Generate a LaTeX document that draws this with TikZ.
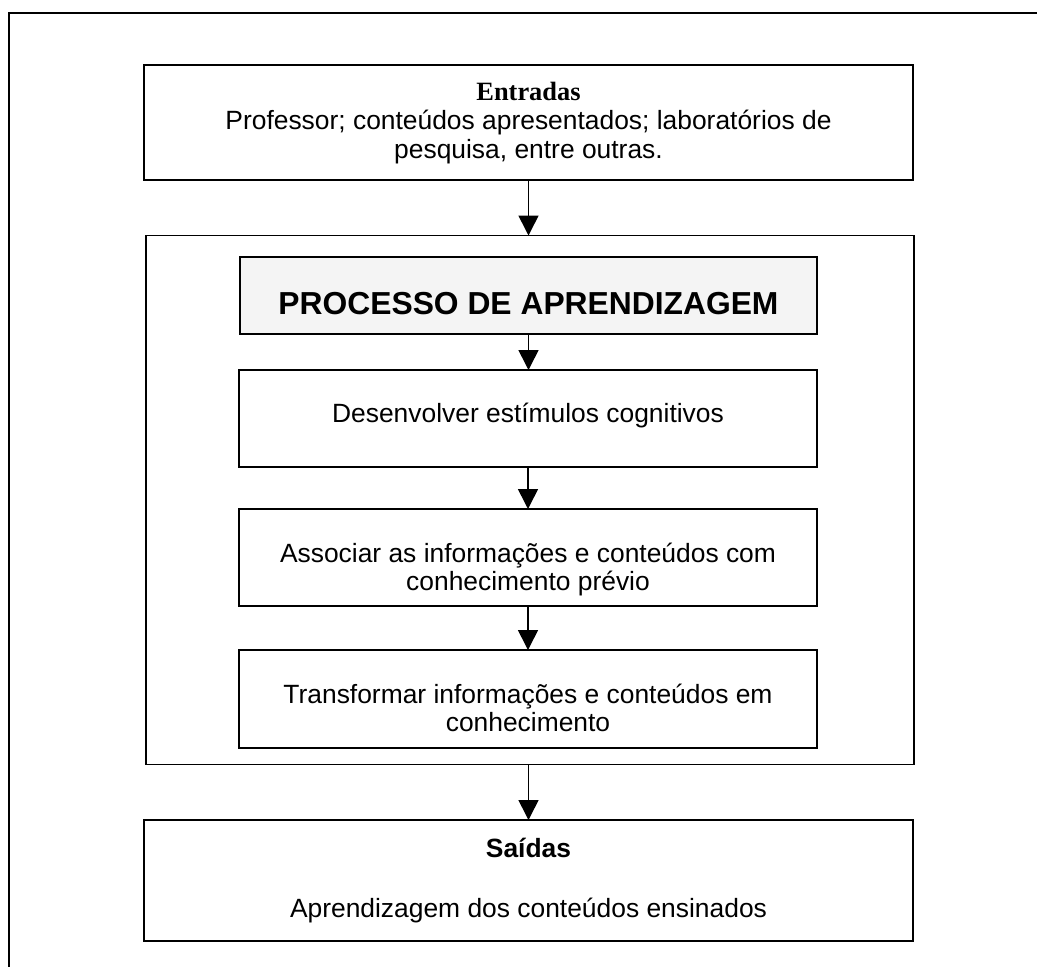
\documentclass[tikz,border=0pt]{standalone}
\usepackage{fontspec}
\setmainfont{Liberation Sans}
\newfontfamily\titleserif{Liberation Serif}
\usetikzlibrary{arrows.meta}
\definecolor{titlefill}{HTML}{F4F4F4}
\begin{document}
\begin{tikzpicture}[x=1pt,y=-1pt,
  box/.style={draw=black,line width=1.8pt,inner sep=0pt,outer sep=0pt,rectangle},
  txt/.style={inner sep=0pt,anchor=base,font=\fontsize{26.4}{29.5}\selectfont},
  flow/.style={line width=1.6pt,-{Triangle[length=20pt,width=20pt]}}]
\useasboundingbox (0,0) rectangle (1037,967);
% outer frame
\draw[line width=1.8pt] (9,967) -- (9,13) -- (1037,13);
% boxes
\node[box,minimum width=769pt,minimum height=115pt] (entr) at (528.5,122.5) {};
\node[box,minimum width=768pt,minimum height=529pt] (proc) at (530,500) {};
\node[box,fill=titlefill,minimum width=577pt,minimum height=77pt] (ptitle) at (528.5,295.5) {};
\node[box,minimum width=578pt,minimum height=97pt] (desenv) at (528,418.5) {};
\node[box,minimum width=578pt,minimum height=97pt] (assoc) at (528,557.5) {};
\node[box,minimum width=578pt,minimum height=98pt] (transf) at (528,699) {};
\node[box,minimum width=769pt,minimum height=121pt] (said) at (528.5,880.5) {};
% texts
\node[txt,font=\titleserif\bfseries\fontsize{26.4}{29.5}\selectfont] (entr-t) at (528.5,100) {Entradas};
\node[txt] (entr-a) at (528.5,129) {Professor; conteúdos apresentados; laboratórios de};
\node[txt] (entr-b) at (528.5,158) {pesquisa, entre outras.};
\node[txt,font=\bfseries\fontsize{31.8}{36}\selectfont] (ptitle-t) at (528.5,314) {PROCESSO DE APRENDIZAGEM};
\node[txt] (desenv-t) at (528,422) {Desenvolver estímulos cognitivos};
\node[txt] (assoc-a) at (528,562) {Associar as informações e conteúdos com};
\node[txt] (assoc-b) at (528,590) {conhecimento prévio};
\node[txt] (transf-a) at (528,703) {Transformar informações e conteúdos em};
\node[txt] (transf-b) at (528,731) {conhecimento};
\node[txt,font=\bfseries\fontsize{26.4}{29.5}\selectfont] (said-t) at (528.5,857) {Saídas};
\node[txt] (said-a) at (528.5,917) {Aprendizagem dos conteúdos ensinados};
% connectors
\draw[flow] (entr.south) -- (entr.south |- proc.north);
\draw[flow] (ptitle.south) -- (ptitle.south |- desenv.north);
\draw[flow] (desenv.south) -- (assoc.north);
\draw[flow] (assoc.south) -- (transf.north);
\draw[flow] (proc.south -| said.north) -- (said.north);
\end{tikzpicture}
\end{document}
